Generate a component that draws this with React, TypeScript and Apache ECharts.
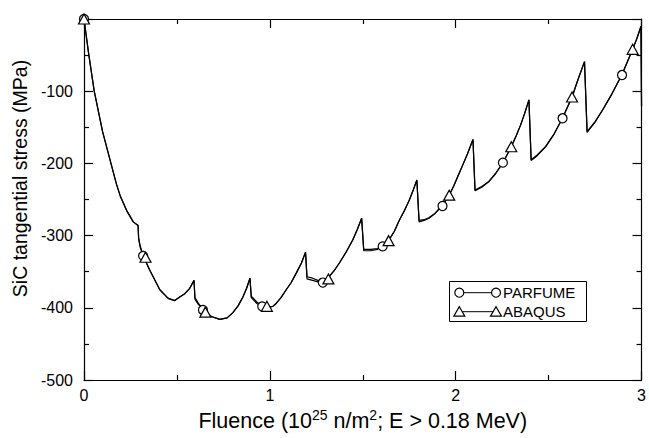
import React, { useEffect, useRef } from "react";
import * as echarts from "echarts";

// Curve (both models share the fluence sampling)
const fluence = [
  0, 0.025, 0.055, 0.1, 0.145, 0.175, 0.195, 0.229, 0.265, 0.291,
  0.294, 0.302, 0.32, 0.354, 0.408, 0.453, 0.488, 0.515, 0.54, 0.569, 0.592,
  0.597, 0.614, 0.646, 0.685, 0.73, 0.77, 0.8, 0.83, 0.855, 0.875, 0.893,
  0.9, 0.93, 0.96, 0.99, 1.016, 1.034, 1.06, 1.088, 1.115, 1.142, 1.17, 1.192,
  1.2, 1.23, 1.258, 1.285, 1.315, 1.345, 1.374, 1.41, 1.446, 1.47, 1.494,
  1.505, 1.54, 1.58, 1.607, 1.639, 1.67, 1.696, 1.725, 1.75, 1.77, 1.791,
  1.803, 1.83, 1.857, 1.89, 1.929, 1.965, 1.99, 2.018, 2.04, 2.063, 2.093,
  2.104, 2.14, 2.179, 2.215, 2.254, 2.299, 2.325, 2.349, 2.372, 2.394,
  2.406, 2.44, 2.483, 2.53, 2.575, 2.626, 2.662, 2.693,
  2.707, 2.75, 2.788, 2.84, 2.895, 2.952, 2.975, 2.997, 3.0,
];
const stressParfume = [
  0, -48, -100, -156, -200, -229, -245, -265, -281, -286,
  -305, -316, -329, -348, -375, -387, -390, -385, -381, -373, -362,
  -388, -395, -404, -412, -416, -414, -407, -397, -385, -373, -359,
  -386, -394, -398, -399, -398, -394, -386, -375, -365, -352, -338, -323,
  -360, -362, -364, -364, -358, -349, -338, -323, -306, -292, -276,
  -321, -321, -319, -315, -307, -294, -279, -265, -251, -238, -223,
  -281, -279, -276, -269, -258, -244, -231, -214, -201, -187, -167,
  -238, -233, -225, -214, -199, -177, -162, -147, -130, -112,
  -196, -189, -177, -159, -137, -108, -81, -59,
  -157, -143, -127, -104, -77, -42, -27, -10, -121,
];
const stressAbaqus = [
  0, -48, -100, -156, -200, -229, -245, -265, -281, -286,
  -303, -314, -329, -348, -375, -387, -390, -385, -381, -373, -362,
  -386, -393, -404, -412, -416, -414, -407, -397, -385, -373, -359,
  -384, -392, -397, -399, -398, -394, -386, -375, -365, -352, -338, -323,
  -357, -359, -362, -363, -358, -349, -338, -323, -306, -292, -276,
  -319, -319, -318, -315, -307, -294, -279, -265, -251, -238, -223,
  -279, -278, -275, -269, -258, -244, -231, -214, -201, -187, -167,
  -237, -232, -225, -214, -199, -177, -162, -147, -130, -112,
  -195, -188, -177, -159, -137, -108, -81, -59,
  -156, -142, -127, -104, -77, -42, -27, -10, -121,
];

// Markers
const parfumeMarkX = [0, 0.318, 0.64, 0.959, 1.285, 1.607, 1.929, 2.254, 2.575, 2.895];
const parfumeMarkY = [0, -328, -403, -398, -365, -315, -259, -199, -137.5, -77.6];
const abaqusMarkX = [0, 0.331, 0.653, 0.984, 1.315, 1.639, 1.965, 2.299, 2.626, 2.952];
const abaqusMarkY = [0, -330, -406, -398, -360, -307, -244, -177, -108, -42];

const seriesNames = ["PARFUME", "ABAQUS"];
const FONT = "Liberation Sans, Arial, Helvetica, sans-serif";

export default function App() {
  const ref = useRef<HTMLDivElement>(null);
  useEffect(() => {
    if (!ref.current) return;
    const chart = echarts.init(ref.current, null, { renderer: "svg" });
    const axisLine = { show: true, onZero: false, lineStyle: { color: "#000", width: 1.2 } };
    const tick = { show: true, inside: true, length: 9, lineStyle: { color: "#000", width: 1.2 } };
    const minor = { show: true, splitNumber: 2, length: 5, lineStyle: { color: "#000", width: 1.2 } };
    const lx = 459.3, rx = 496, r1 = 292.7, r2 = 311.7;
    const tri = (cx: number, cy: number) => [[cx - 5.5, cy + 4.5], [cx + 5.5, cy + 4.5], [cx, cy - 5]];
    chart.setOption({
      animation: false,
      backgroundColor: "#fff",
      grid: { left: 84, right: 6, top: 19, bottom: 58, containLabel: false },
      xAxis: [
        {
          type: "value", min: 0, max: 3, interval: 1, position: "bottom",
          axisLine, axisTick: tick, minorTick: minor, splitLine: { show: false },
          axisLabel: { color: "#000", fontFamily: FONT, fontSize: 16, margin: 7 },
          name: "{a|Fluence (10}{s|25}{a| n/m}{s|2}{a|; E > 0.18 MeV)}",
          nameLocation: "middle", nameGap: 26,
          nameTextStyle: {
            color: "#000", fontFamily: FONT, fontSize: 21.5,
            rich: {
              a: { fontFamily: FONT, fontSize: 21.5, color: "#000", lineHeight: 24, verticalAlign: "bottom" },
              s: { fontFamily: FONT, fontSize: 14, color: "#000", lineHeight: 16, verticalAlign: "top" },
            },
          },
        },
        {
          type: "value", min: 0, max: 3, interval: 1, position: "top",
          axisLine, axisTick: tick, minorTick: minor, splitLine: { show: false },
          axisLabel: { show: false },
        },
      ],
      yAxis: [
        {
          type: "value", min: -500, max: 0, interval: 100, position: "left",
          axisLine, axisTick: tick, minorTick: minor, splitLine: { show: false },
          axisLabel: {
            color: "#000", fontFamily: FONT, fontSize: 16, margin: 11,
            formatter: (v: number) => (v === 0 ? "" : String(v)),
          },
          name: "SiC tangential stress (MPa)", nameLocation: "middle", nameGap: 51,
          nameTextStyle: { color: "#000", fontFamily: FONT, fontSize: 19.5, padding: [0, 0, 0, 42] },
        },
        {
          type: "value", min: -500, max: 0, interval: 100, position: "right",
          axisLine, axisTick: tick, minorTick: minor, splitLine: { show: false },
          axisLabel: { show: false },
        },
      ],
      series: [
        {
          name: seriesNames[0], type: "line", clip: false, showSymbol: false, symbol: "none",
          data: fluence.map((x, i) => [x, stressParfume[i]]),
          lineStyle: { color: "#000", width: 1.2 }, z: 2,
        },
        {
          name: seriesNames[1], type: "line", clip: false, showSymbol: false, symbol: "none",
          data: fluence.map((x, i) => [x, stressAbaqus[i]]),
          lineStyle: { color: "#000", width: 1.2 }, z: 2,
        },
        {
          name: seriesNames[0] + " markers", type: "scatter", clip: false, symbol: "circle", symbolSize: 9,
          data: parfumeMarkX.map((x, i) => [x, parfumeMarkY[i]]),
          itemStyle: { color: "#fff", borderColor: "#000", borderWidth: 1.2, opacity: 1 }, z: 3,
        },
        {
          name: seriesNames[1] + " markers", type: "scatter", clip: false, symbol: "triangle", symbolSize: [11, 10],
          data: abaqusMarkX.map((x, i) => [x, abaqusMarkY[i]]),
          itemStyle: { color: "#fff", borderColor: "#000", borderWidth: 1.2, opacity: 1 }, z: 4,
        },
      ],
      graphic: [
        { type: "rect", shape: { x: 449.5, y: 281.5, width: 137, height: 40 }, style: { fill: "#fff", stroke: "#000", lineWidth: 1 }, z: 10 },
        { type: "line", shape: { x1: lx, y1: r1, x2: rx, y2: r1 }, style: { stroke: "#000", lineWidth: 1 }, z: 11 },
        { type: "circle", shape: { cx: lx, cy: r1, r: 4.5 }, style: { fill: "#fff", stroke: "#000", lineWidth: 1.2 }, z: 12 },
        { type: "circle", shape: { cx: rx, cy: r1, r: 4.5 }, style: { fill: "#fff", stroke: "#000", lineWidth: 1.2 }, z: 12 },
        { type: "text", x: 503, y: r1, style: { text: seriesNames[0], fill: "#000", font: `15px ${FONT}`, verticalAlign: "middle", align: "left" }, z: 12 },
        { type: "line", shape: { x1: lx, y1: r2, x2: rx, y2: r2 }, style: { stroke: "#000", lineWidth: 1 }, z: 11 },
        { type: "polygon", shape: { points: tri(lx, r2) }, style: { fill: "#fff", stroke: "#000", lineWidth: 1.2 }, z: 12 },
        { type: "polygon", shape: { points: tri(rx, r2) }, style: { fill: "#fff", stroke: "#000", lineWidth: 1.2 }, z: 12 },
        { type: "text", x: 503, y: r2, style: { text: seriesNames[1], fill: "#000", font: `15px ${FONT}`, verticalAlign: "middle", align: "left" }, z: 12 },
      ],
    });
    return () => chart.dispose();
  }, []);
  return (
    <div
      ref={ref}
      style={{ position: "fixed", left: 0, top: 0, width: 649, height: 438, background: "#fff" }}
    />
  );
}
